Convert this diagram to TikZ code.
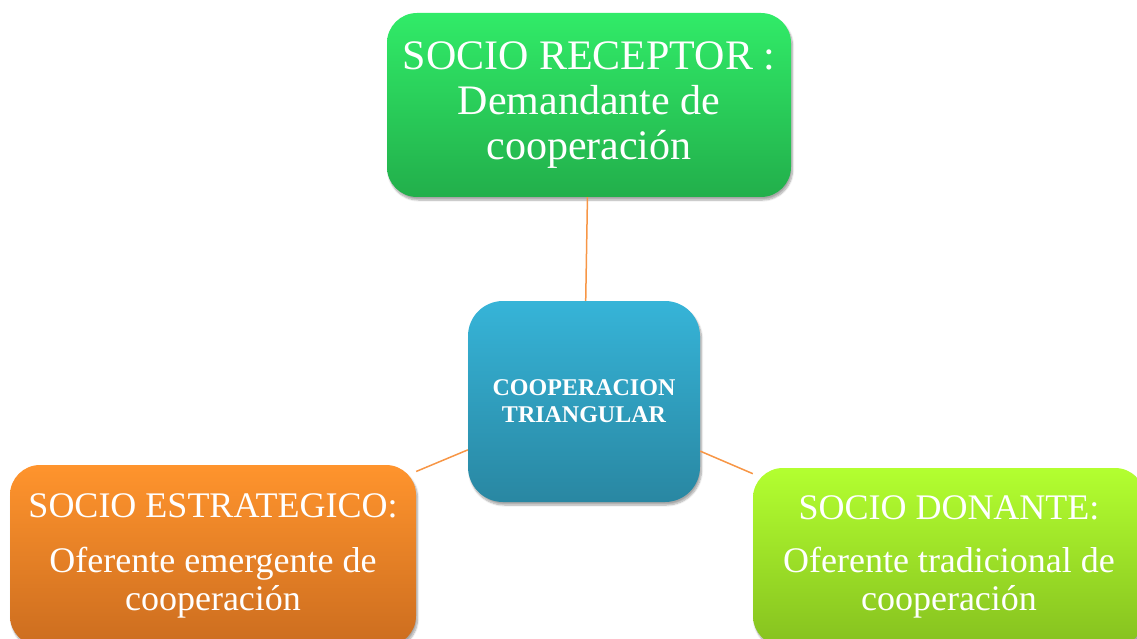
\documentclass[tikz,border=0pt]{standalone}
\usepackage{fontspec}
\setmainfont{Liberation Serif}
\usetikzlibrary{shadows.blur}
\definecolor{gtop}{HTML}{31EB68}
\definecolor{gbot}{HTML}{22AF4B}
\definecolor{btop}{HTML}{36B4D8}
\definecolor{bbot}{HTML}{2987A2}
\definecolor{otop}{HTML}{FF942D}
\definecolor{obot}{HTML}{CC6D1F}
\definecolor{ltop}{HTML}{B3FF30}
\definecolor{lbot}{HTML}{86C11F}
\definecolor{connc}{HTML}{F79646}
\begin{document}
\begin{tikzpicture}[x=1pt,y=-1pt,
  box/.style={rounded corners=30pt, text=white, align=center, inner sep=0pt,
    blur shadow={shadow blur steps=8, shadow xshift=1.5pt, shadow yshift=-3pt, shadow opacity=35}},
  conn/.style={draw=connc, line width=1.5pt}]
\useasboundingbox (0,0) rectangle (1137,639);
\clip (0,0) rectangle (1137,639);
\node[box, top color=gtop, bottom color=gbot, minimum width=404pt, minimum height=184pt,
  font=\fontsize{42}{45}\selectfont] (rec) at (589,105)
  {SOCIO RECEPTOR :\\Demandante de\\cooperación};
\node[box, rounded corners=35pt, top color=btop, bottom color=bbot, minimum width=232pt, minimum height=201pt,
  font=\bfseries\fontsize{24}{27}\selectfont] (tri) at (584,401.5)
  {COOPERACION\\TRIANGULAR};
\node[box, top color=otop, bottom color=obot, minimum width=406pt, minimum height=181pt,
  font=\fontsize{36}{38}\selectfont] (est) at (213,555.5)
  {SOCIO ESTRATEGICO:\\[17pt]Oferente emergente de\\cooperación};
\node[box, top color=ltop, bottom color=lbot, minimum width=392pt, minimum height=178pt,
  font=\fontsize{36}{38}\selectfont] (don) at (949,557)
  {SOCIO DONANTE:\\[15pt]Oferente tradicional de\\cooperación};
\draw[conn] (rec) -- (tri);
\draw[conn] (tri) -- (est);
\draw[conn] (tri) -- (don);
\end{tikzpicture}
\end{document}
